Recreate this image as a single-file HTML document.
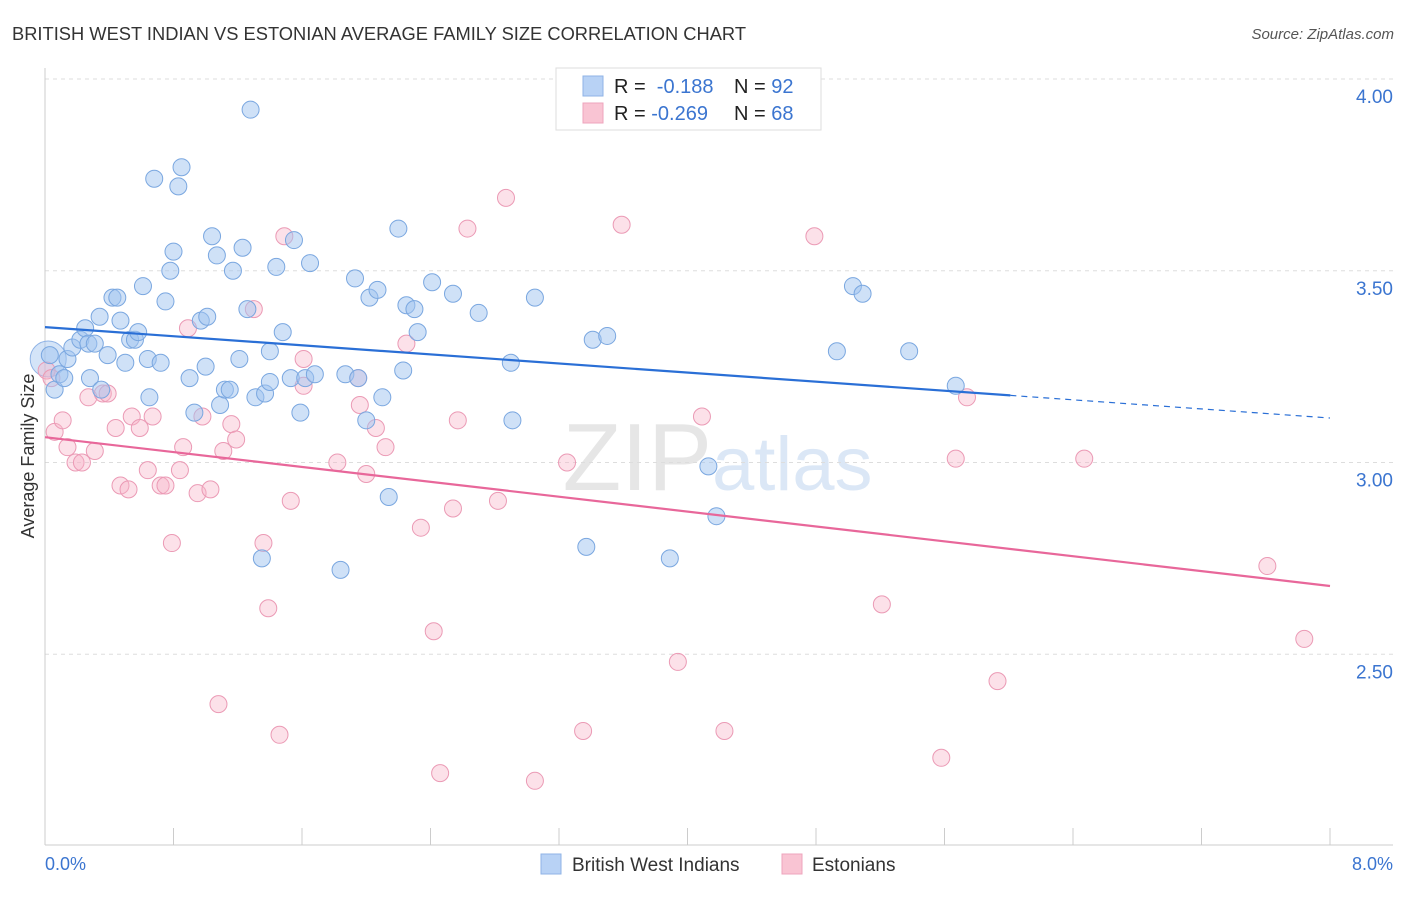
<!DOCTYPE html>
<html><head><meta charset="utf-8"><style>
body{margin:0;background:#fff;font-family:"Liberation Sans",sans-serif;}
svg text{font-family:"Liberation Sans",sans-serif;}
</style></head><body>
<svg id="chart" width="1406" height="892">
<text x="12" y="40" font-size="18" fill="#333" textLength="734" lengthAdjust="spacingAndGlyphs">BRITISH WEST INDIAN VS ESTONIAN AVERAGE FAMILY SIZE CORRELATION CHART</text>
<text x="1394" y="39" font-size="15" fill="#555" font-style="italic" text-anchor="end">Source: ZipAtlas.com</text>
<text x="712" y="490" font-size="96" fill="#e6e6e6" text-anchor="end" font-family="Liberation Serif">ZIP</text>
<text x="712" y="490" font-size="76" fill="#dbe7f6">atlas</text>
<g id="grid"></g><g id="axes"></g><g id="pts"></g><g id="trend"></g>
<text transform="translate(34,456) rotate(-90)" font-size="18" fill="#333" text-anchor="middle">Average Family Size</text>
<text x="45" y="870" font-size="18" fill="#3b75d0">0.0%</text>
<text x="1393" y="870" font-size="18" fill="#3b75d0" text-anchor="end">8.0%</text>
<g>
<rect x="556" y="68" width="265" height="62" fill="#fff" stroke="#ddd"/>
<rect x="583" y="76" width="20" height="20" fill="#b8d2f5" stroke="#8fb3e6"/>
<rect x="583" y="103" width="20" height="20" fill="#f9c4d3" stroke="#eea4bc"/>
<text x="614" y="93" font-size="20" fill="#222">R = <tspan fill="#3b75d0">&#160;-0.188</tspan></text>
<text x="734" y="93" font-size="20" fill="#222">N = <tspan fill="#3b75d0">92</tspan></text>
<text x="614" y="120" font-size="20" fill="#222">R = <tspan fill="#3b75d0">-0.269</tspan></text>
<text x="734" y="120" font-size="20" fill="#222">N = <tspan fill="#3b75d0">68</tspan></text>
</g>
<g>
<rect x="541" y="854" width="20" height="20" fill="#b8d2f5" stroke="#8fb3e6"/>
<text x="572" y="871" font-size="19" fill="#333">British West Indians</text>
<rect x="782" y="854" width="20" height="20" fill="#f9c4d3" stroke="#eea4bc"/>
<text x="812" y="871" font-size="19" fill="#333">Estonians</text>
</g>
</svg>
<script>
const yTicks=[4.0,3.5,3.0,2.5];
const yTickLabels=["4.00","3.50","3.00","2.50"];
const xTicks=[0,0.8,1.6,2.4,3.2,4.0,4.8,5.6,6.4,7.2,8.0];
const blueX=[.03,.06,.09,.12,.14,.17,.22,.25,.27,.31,.28,.34,.35,.39,.42,.45,.47,.50,.53,.56,.58,.61,.64,.65,.68,.72,.75,.78,.80,.83,.85,.90,.93,.97,1.00,1.01,1.04,1.07,1.09,1.12,1.15,1.17,1.21,1.23,1.26,1.28,1.31,1.37,1.40,1.40,1.44,1.48,1.53,1.55,1.59,1.62,1.65,1.68,1.35,1.84,1.87,1.93,1.95,2.00,2.02,2.07,2.10,2.14,2.20,2.23,2.25,2.30,2.32,2.41,2.54,2.70,2.90,2.91,3.05,3.37,3.41,3.50,3.89,4.13,4.18,4.93,5.03,5.09,5.38,5.67];
const blueY=[3.28,3.19,3.23,3.22,3.27,3.30,3.32,3.35,3.31,3.31,3.22,3.38,3.19,3.28,3.43,3.43,3.37,3.26,3.32,3.32,3.34,3.46,3.27,3.17,3.74,3.26,3.42,3.50,3.55,3.72,3.77,3.22,3.13,3.37,3.25,3.38,3.59,3.54,3.15,3.19,3.19,3.50,3.27,3.56,3.40,3.92,3.17,3.18,3.21,3.29,3.51,3.34,3.22,3.58,3.13,3.22,3.52,3.23,2.75,2.72,3.23,3.48,3.22,3.11,3.43,3.45,3.17,2.91,3.61,3.24,3.41,3.40,3.34,3.47,3.44,3.39,3.26,3.11,3.43,2.78,3.32,3.33,2.75,2.99,2.86,3.29,3.46,3.44,3.29,3.20];
const pinkX=[.01,.04,.06,.11,.14,.19,.23,.27,.31,.36,.39,.44,.47,.52,.54,.59,.64,.67,.72,.75,.79,.84,.86,.89,.95,.98,1.03,1.08,1.11,1.16,1.19,1.30,1.36,1.39,1.46,1.49,1.53,1.61,1.61,1.82,1.95,1.96,2.00,2.06,2.12,2.25,2.34,2.42,2.46,2.54,2.57,2.63,2.82,2.87,3.05,3.25,3.35,3.59,3.94,4.09,4.23,4.79,5.21,5.58,5.67,5.74,5.93,6.47,7.61,7.84];
const pinkY=[3.24,3.22,3.08,3.11,3.04,3.00,3.00,3.17,3.03,3.18,3.18,3.09,2.94,2.93,3.12,3.09,2.98,3.12,2.94,2.94,2.79,2.98,3.04,3.35,2.92,3.12,2.93,2.37,3.03,3.10,3.06,3.40,2.79,2.62,2.29,3.59,2.90,3.20,3.27,3.00,3.22,3.15,2.97,3.09,3.04,3.31,2.83,2.56,2.19,2.88,3.11,3.61,2.90,3.69,2.17,3.00,2.30,3.62,2.48,3.12,2.30,3.59,2.63,2.23,3.01,3.17,2.43,3.01,2.73,2.54];
const blueTrend=[3.353,3.116], blueSolidEnd=6.01;
const pinkTrend=[3.066,2.678];
const X=v=>45+v/8*1285, Y=v=>79+(4-v)*383.5;
const NS="http://www.w3.org/2000/svg";
function mk(p,t,a){const e=document.createElementNS(NS,t);for(const k in a)e.setAttribute(k,a[k]);document.getElementById(p).appendChild(e);return e;}
yTicks.forEach((t,i)=>{
 const l=mk('grid','line',{x1:45,x2:1393,y1:Y(t),y2:Y(t),stroke:'#ddd','stroke-dasharray':'4,4'});
 
 
 const tx=mk('axes','text',{x:1393,y:Y(t)+24,'font-size':19,fill:'#3b75d0','text-anchor':'end'});tx.textContent=yTickLabels[i];
 
 
});
const ax=mk('axes','line',{x1:45,x2:45,y1:68,y2:845,stroke:'#ccc'});


const bx=mk('axes','line',{x1:45,x2:1393,y1:845,y2:845,stroke:'#ccc'});


xTicks.forEach(t=>{const l=mk('axes','line',{x1:X(t),x2:X(t),y1:828,y2:845,stroke:'#ccc'});
 
 });
const big=mk('pts','circle',{cx:X(0.02),cy:Y(3.27),r:18,fill:'rgba(160,196,240,0.45)',stroke:'#8fb3e6'});


pinkX.forEach((x,i)=>{const c=mk('pts','circle',{cx:X(x),cy:Y(pinkY[i]),r:8.5,fill:'rgba(248,180,200,0.4)',stroke:'#eb9ab5','stroke-width':1});
 
 });
blueX.forEach((x,i)=>{const c=mk('pts','circle',{cx:X(x),cy:Y(blueY[i]),r:8.5,fill:'rgba(160,196,240,0.5)',stroke:'#7aa7e0','stroke-width':1});
 
 });
const by=x=>blueTrend[0]+(blueTrend[1]-blueTrend[0])*x/8;
const b1=mk('trend','line',{x1:X(0),y1:Y(by(0)),x2:X(blueSolidEnd),y2:Y(by(blueSolidEnd)),stroke:'#2a6fd6','stroke-width':2.2});


const b2=mk('trend','line',{x1:X(blueSolidEnd),y1:Y(by(blueSolidEnd)),x2:X(8),y2:Y(by(8)),stroke:'#2a6fd6','stroke-width':1.2,'stroke-dasharray':'6,5'});


const p1=mk('trend','line',{x1:X(0),y1:Y(pinkTrend[0]),x2:X(8),y2:Y(pinkTrend[1]),stroke:'#e8679a','stroke-width':2.2});


</script>
</body></html>
